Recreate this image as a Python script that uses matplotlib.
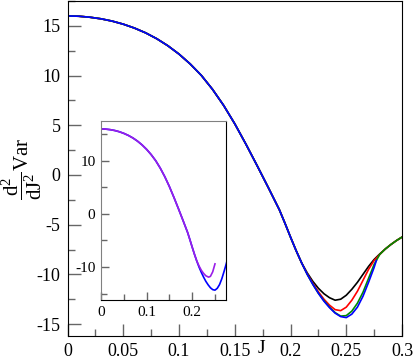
import matplotlib.pyplot as plt
from matplotlib.ticker import MultipleLocator

plt.rcParams['font.family'] = ['Liberation Serif', 'DejaVu Serif']
plt.rcParams['mathtext.fontset'] = 'custom'
plt.rcParams['mathtext.rm'] = 'Liberation Serif'
plt.rcParams['mathtext.it'] = 'Liberation Serif'
plt.rcParams['axes.unicode_minus'] = False

# shared part of all curves
j_common = [0.0, 0.01, 0.02, 0.03, 0.04, 0.05, 0.06, 0.07, 0.08, 0.09, 0.10, 0.11, 0.12, 0.13,
            0.14, 0.15, 0.16, 0.17, 0.18, 0.19, 0.195, 0.20, 0.205, 0.21]
v_common = [16.0, 15.97, 15.87, 15.71, 15.48, 15.17, 14.78, 14.3, 13.71, 13.0, 12.16, 11.17, 10.02, 8.62,
            7.0, 5.15, 3.1, 0.95, -1.25, -3.5, -4.85, -6.25, -7.6, -8.85]

# tails after J = 0.21
j_blue = [0.215, 0.22, 0.225, 0.23, 0.235, 0.24, 0.245, 0.25, 0.255, 0.26, 0.265, 0.27, 0.275, 0.277]
v_blue = [-10.0, -11.0, -11.9, -12.7, -13.35, -13.9, -14.25, -14.35, -14.0, -13.3, -12.2, -10.8, -9.3, -8.6]

j_green = [0.215, 0.22, 0.225, 0.23, 0.235, 0.24, 0.245, 0.25, 0.255, 0.26, 0.265, 0.27, 0.275,
           0.28, 0.285, 0.29, 0.295, 0.30]
v_green = [-10.0, -11.0, -11.9, -12.65, -13.3, -13.85, -14.2, -14.15, -13.7, -12.9, -11.8, -10.4, -9.0,
           -8.0, -7.45, -7.0, -6.6, -6.25]

j_red = [0.215, 0.22, 0.225, 0.23, 0.235, 0.24, 0.245, 0.25, 0.255, 0.26, 0.265, 0.27, 0.275,
         0.28, 0.285, 0.29, 0.295, 0.30]
v_red = [-9.95, -10.9, -11.75, -12.5, -13.1, -13.55, -13.65, -13.3, -12.6, -11.7, -10.6, -9.5, -8.6,
         -8.0, -7.45, -7.0, -6.6, -6.25]

j_black = [0.215, 0.22, 0.225, 0.23, 0.235, 0.24, 0.245, 0.25, 0.255, 0.26, 0.265, 0.27, 0.275,
           0.28, 0.285, 0.29, 0.295, 0.30]
v_black = [-9.85, -10.7, -11.4, -11.95, -12.35, -12.6, -12.5, -12.1, -11.5, -10.8, -10.0, -9.2, -8.5,
           -7.95, -7.45, -7.0, -6.6, -6.25]

j_purple = [0.215, 0.22, 0.225, 0.23, 0.236, 0.24, 0.245, 0.25]
v_purple = [-9.8, -10.6, -11.2, -11.65, -11.9, -11.75, -10.9, -9.4]

fig = plt.figure(figsize=(4.15, 3.63), dpi=100)
ax = fig.add_axes([0.1627, 0.0744, 0.806, 0.9228])

lw = 1.2
for jt, vt, c in [(j_black, v_black, 'black'), (j_red, v_red, '#ff0000'),
                  (j_green, v_green, '#008b00'), (j_blue, v_blue, '#0000ff')]:
    ax.plot(j_common + jt, v_common + vt, color=c, lw=lw)

ax.set_xlim(0, 0.3)
ax.set_ylim(-16.2, 17.5)
ax.xaxis.set_minor_locator(MultipleLocator(0.025))
ax.yaxis.set_major_locator(MultipleLocator(5))
ax.yaxis.set_minor_locator(MultipleLocator(2.5))
ax.set_xticks([0, 0.05, 0.1, 0.15, 0.2, 0.25, 0.3])
ax.set_xticklabels(['0', '0.05', '0.1', '0.15', '0.2', '0.25', '0.3'])
ax.tick_params(which='both', direction='in', top=False, right=False, labelsize=13, color='0.4', width=1)
ax.tick_params(which='major', length=9, pad=5)
ax.tick_params(which='minor', length=5)
ax.set_xlabel('J', fontsize=14)
ax.xaxis.set_label_coords(0.58, -0.012)
ax.set_ylabel(r'$\dfrac{\mathrm{d}^2}{\mathrm{dJ}^2}$Var', fontsize=15)
ax.yaxis.set_label_coords(-0.07, 0.5)

# inset
ins = fig.add_axes([0.2434, 0.1736, 0.301, 0.4931])
ins.plot(j_common + j_blue, v_common + v_blue, color='#0000ff', lw=lw)
ins.plot(j_common + j_purple, v_common + v_purple, color='#9a1ee8', lw=lw)
ins.set_xlim(0, 0.274)
ins.set_ylim(-16.2, 17.5)
ins.set_xticks([0, 0.1, 0.2])
ins.set_xticklabels(['0', '0.1', '0.2'])
ins.xaxis.set_minor_locator(MultipleLocator(0.05))
ins.yaxis.set_major_locator(MultipleLocator(10))
ins.yaxis.set_minor_locator(MultipleLocator(5))
ins.tick_params(which='both', direction='in', top=False, right=False, labelsize=11, color='0.4', width=1)
ins.tick_params(which='major', length=6, pad=4)
ins.tick_params(which='minor', length=4)
ins.spines['left'].set_color('0.5')
ins.spines['top'].set_color('0.5')

fig.savefig('out.png', dpi=100)
